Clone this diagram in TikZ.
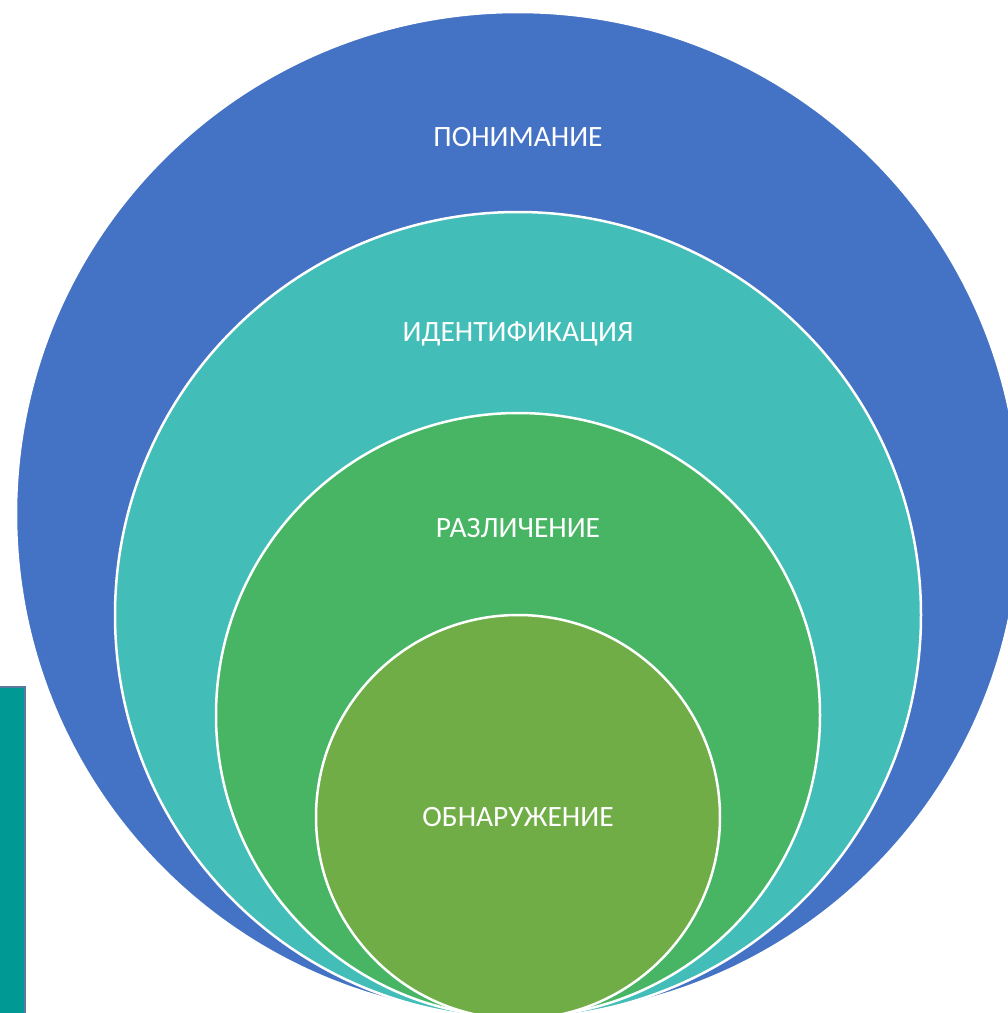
\documentclass[tikz,border=0pt]{standalone}
\usepackage{fontspec}
\setmainfont{Carlito}
\usetikzlibrary{positioning}
\definecolor{ringblue}{RGB}{68,114,196}
\definecolor{ringteal}{RGB}{67,189,183}
\definecolor{ringgreen}{RGB}{71,181,100}
\definecolor{ringolive}{RGB}{112,173,71}
\definecolor{sidebar}{RGB}{0,153,148}
\definecolor{sideframe}{RGB}{90,122,158}
\tikzset{
  ring/.style={circle,draw=white,line width=2.5pt,inner sep=0pt},
  ringlabel/.style={text=white,font=\fontsize{29.5}{34}\selectfont,inner sep=0pt}
}
\begin{document}
\begin{tikzpicture}[x=1pt,y=-1pt]
  \useasboundingbox (0,0) rectangle (1008,1013);
  \clip (0,0) rectangle (1008,1013);
  % side bar on the left
  \draw[fill=sidebar,draw=sideframe,line width=2pt] (-10,687) rectangle (25,1030);
  % nested circles, from outside in
  \node[ring,fill=ringblue,minimum size=1004pt] (pon) at (518,514) {};
  \node[ring,fill=ringteal,minimum size=806pt] (ident) at (518,615) {};
  \node[ring,fill=ringgreen,minimum size=604pt] (razl) at (518,715) {};
  \node[ring,fill=ringolive,minimum size=404pt] (obn) at (518,817) {};
  % labels
  \node[ringlabel,below=116pt of pon.north] (ponlbl) {ПОНИМАНИЕ};
  \node[ringlabel,below=111pt of ident.north] (identlbl) {ИДЕНТИФИКАЦИЯ};
  \node[ringlabel,below=106pt of razl.north] (razllbl) {РАЗЛИЧЕНИЕ};
  \node[ringlabel] (obnlbl) at (obn) {ОБНАРУЖЕНИЕ};
\end{tikzpicture}
\end{document}
